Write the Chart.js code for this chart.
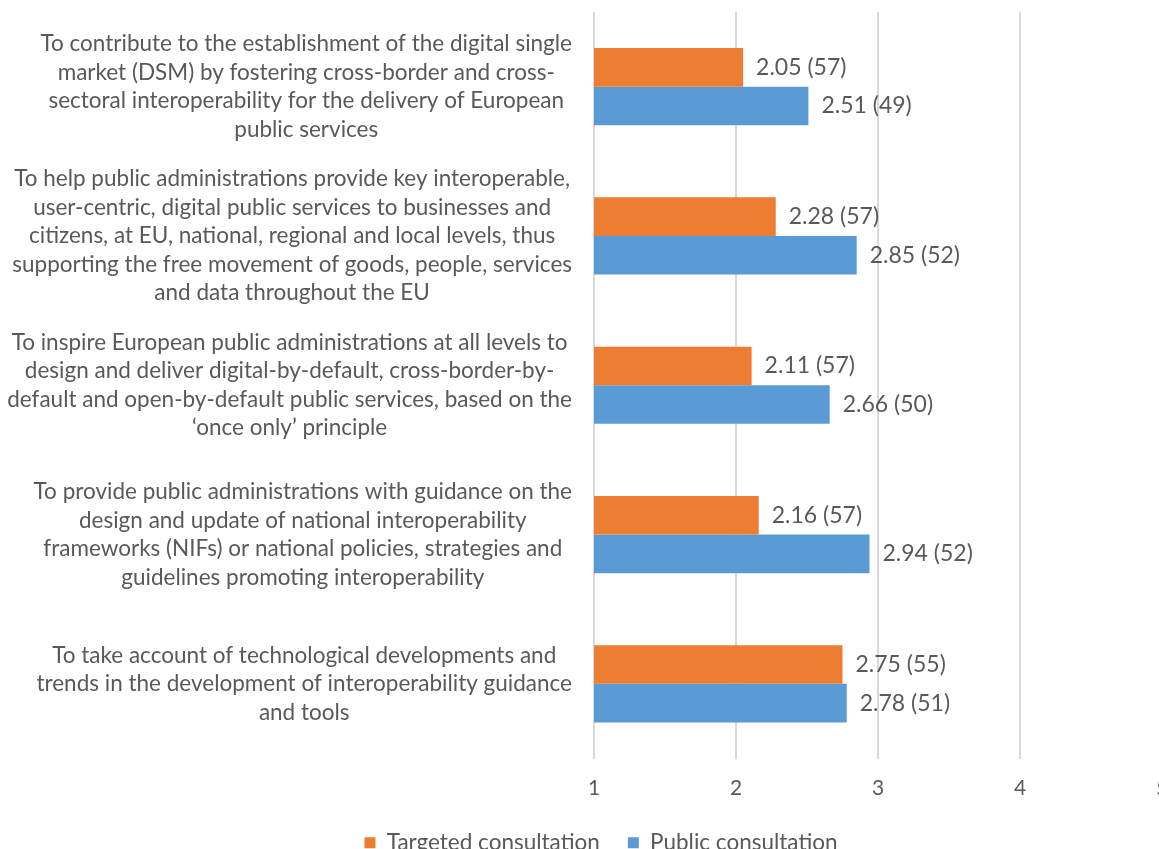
<!DOCTYPE html>
<html>
<head>
<meta charset="utf-8">
<script src="https://cdn.jsdelivr.net/npm/chart.js@4.4.1/dist/chart.umd.min.js"></script>
<style>
  html, body { margin: 0; padding: 0; background: #fff; overflow: hidden; }
  #wrap { position: absolute; left: 0; top: 0; width: 1202px; height: 864px; }
</style>
</head>
<body>
<div id="wrap"><canvas id="chart"></canvas></div>
<script>
// ── Datos ─────────────────────────────────────────────────────
const categorias = [
    ['To contribute to the establishment of the digital single',
     'market (DSM) by fostering cross-border and cross-',
     'sectoral interoperability for the delivery of European',
     'public services'],
    ['To help public administrations provide key interoperable,',
     'user-centric, digital public services to businesses and',
     'citizens, at EU, national, regional and local levels, thus',
     'supporting the free movement of goods, people, services',
     'and data throughout the EU'],
    ['To inspire European public administrations at all levels to',
     'design and deliver digital-by-default, cross-border-by-',
     'default and open-by-default public services, based on the',
     '\u2018once only\u2019 principle'],
    ['To provide public administrations with guidance on the',
     'design and update of national interoperability',
     'frameworks (NIFs) or national policies, strategies and',
     'guidelines promoting interoperability'],
    ['To take account of technological developments and',
     'trends in the development of interoperability guidance',
     'and tools'],
];
const targetedValores = [2.05, 2.28, 2.11, 2.16, 2.75];
const targetedN       = [57, 57, 57, 57, 55];
const publicValores   = [2.51, 2.85, 2.66, 2.94, 2.78];
const publicN         = [49, 52, 50, 52, 51];
const ticksX          = [1, 2, 3, 4, 5];

const FONT = 'Lato, "Open Sans", sans-serif';
const TXT  = '#595959';

// ── Etiquetas de categoría: bloque alineado a la derecha, líneas centradas ──
const etiquetasCategoria = {
    id: 'etiquetasCategoria',
    afterDraw(chart) {
        const ctx = chart.ctx;
        const y = chart.scales.y;
        const derecha = 572;
        const alto = 28.5;
        ctx.save();
        ctx.font = '22.5px ' + FONT;
        ctx.fillStyle = TXT;
        ctx.textAlign = 'center';
        ctx.textBaseline = 'middle';
        categorias.forEach((lineas, i) => {
            const ancho = Math.max(...lineas.map(l => ctx.measureText(l).width));
            const cx = derecha - ancho / 2;
            const cy = y.getPixelForTick(i);
            const y0 = cy - (lineas.length - 1) * alto / 2;
            lineas.forEach((l, k) => ctx.fillText(l, cx, y0 + k * alto));
        });
        ctx.restore();
    },
};

// ── Etiquetas de valor al final de cada barra ─────────────────
const etiquetasValor = {
    id: 'etiquetasValor',
    afterDatasetsDraw(chart) {
        const ctx = chart.ctx;
        ctx.save();
        ctx.font = '23px ' + FONT;
        ctx.fillStyle = TXT;
        ctx.textAlign = 'left';
        ctx.textBaseline = 'middle';
        chart.data.datasets.forEach((ds, d) => {
            chart.getDatasetMeta(d).data.forEach((bar, i) => {
                const txt = ds.data[i].toFixed(2) + ' (' + ds.conteos[i] + ')';
                ctx.fillText(txt, bar.x + 13, bar.y);
            });
        });
        ctx.restore();
    },
};

new Chart(document.getElementById('chart'), {
    type: 'bar',
    data: {
        labels: categorias,
        datasets: [
            { label: 'Targeted consultation', data: targetedValores, conteos: targetedN,
              backgroundColor: '#ED7D31', categoryPercentage: 0.517, barPercentage: 1 },
            { label: 'Public consultation', data: publicValores, conteos: publicN,
              backgroundColor: '#5B9BD5', categoryPercentage: 0.517, barPercentage: 1 },
        ],
    },
    options: {
        indexAxis: 'y',
        responsive: true,
        maintainAspectRatio: false,
        animation: false,
        layout: { padding: { top: 12, right: 40, bottom: 0, left: 40 } },
        scales: {
            x: {
                min: 1, max: 5,
                afterBuildTicks: s => { s.ticks = ticksX.map(v => ({ value: v })); },
                afterFit: s => { s.height = 45; },
                grid: { color: '#d9d9d9', lineWidth: 2, drawTicks: false },
                border: { display: false },
                ticks: { color: TXT, font: { family: FONT, size: 21 }, padding: 17 },
            },
            y: {
                grid: { display: false },
                border: { display: false },
                ticks: { display: false },
                afterFit: s => { s.width = 554; },
            },
        },
        plugins: {
            legend: {
                position: 'bottom',
                labels: { color: TXT, font: { family: FONT, size: 22.5 }, boxWidth: 11, boxHeight: 11, padding: 28 },
            },
            tooltip: { enabled: false },
        },
    },
    plugins: [etiquetasCategoria, etiquetasValor],
});
</script>
</body>
</html>
